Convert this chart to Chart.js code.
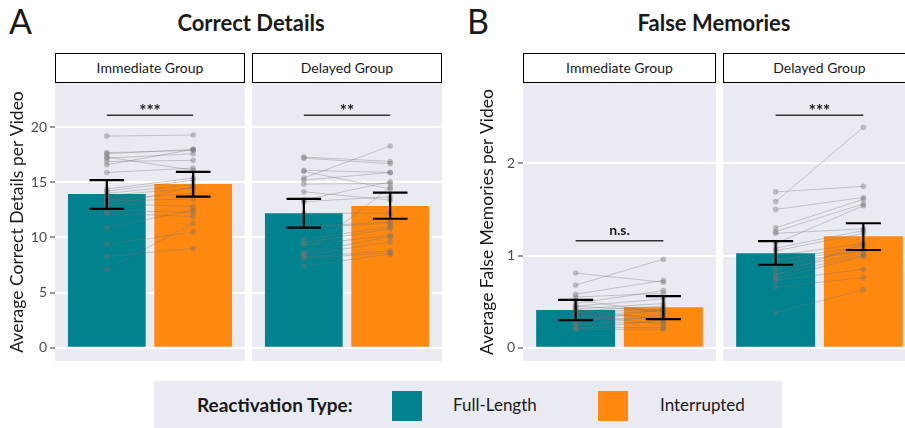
<!DOCTYPE html>
<html>
<head>
<meta charset="utf-8">
<script src="https://cdn.jsdelivr.net/npm/chart.js@4"></script>
<style>
  body { margin: 0; width: 905px; height: 428px; overflow: hidden; background: #fff; font-family: Lato, sans-serif; position: relative; color: #1a1a1a; }
  canvas { position: absolute; }
  .lbl { position: absolute; font-size: 34px; }
  .ttl { position: absolute; font-size: 22px; font-weight: bold; transform: translate(-50%, -50%); white-space: nowrap; }
  .strip { position: absolute; box-sizing: border-box; border: 1.5px solid #000; background: #fff; height: 30px; top: 53px; font-size: 14px; text-align: center; line-height: 27px; }
  #legend { position: absolute; left: 154px; top: 381px; width: 628px; height: 47px; background: #eaeaf2; }
  #legend div { position: absolute; }
  .sw { width: 30px; height: 30px; top: 10px; }
  .lt { font-size: 17px; top: 13px; }
</style>
</head>
<body>
<div class="lbl" style="left:9px; top:0px;">A</div>
<div class="lbl" style="left:467px; top:0px;">B</div>
<div class="ttl" style="left:251px; top:22px;">Correct Details</div>
<div class="ttl" style="left:714px; top:22px;">False Memories</div>

<div class="strip" style="left:55px; width:190px;">Immediate Group</div>
<div class="strip" style="left:252px; width:190px;">Delayed Group</div>
<div class="strip" style="left:523px; width:193px;">Immediate Group</div>
<div class="strip" style="left:723px; width:193px;">Delayed Group</div>

<canvas id="cA1" width="245" height="278" style="left:0px; top:83px;"></canvas>
<canvas id="cA2" width="190" height="278" style="left:252px; top:83px;"></canvas>
<canvas id="cB1" width="246" height="278" style="left:470px; top:83px;"></canvas>
<canvas id="cB2" width="193" height="278" style="left:723px; top:83px;"></canvas>

<div id="legend">
  <div style="left:43px; top:12px; font-size:19px; font-weight:bold;">Reactivation Type:</div>
  <div class="sw" style="left:238px; background:#00838e;"></div>
  <div class="lt" style="left:299px;">Full-Length</div>
  <div class="sw" style="left:444px; background:#ff8811;"></div>
  <div class="lt" style="left:506px;">Interrupted</div>
</div>

<script>
// categories
const groups = ['Immediate Group', 'Delayed Group'];
const reactivation = ['Full-Length', 'Interrupted'];
const barColors = ['#00838e', '#ff8811'];

// correct details - bar means and error bar limits [Full-Length, Interrupted]
const cdImmMean = [13.95, 14.85];
const cdImmLow = [12.6, 13.7];
const cdImmHigh = [15.2, 15.95];
const cdDelMean = [12.2, 12.85];
const cdDelLow = [10.9, 11.7];
const cdDelHigh = [13.5, 14.07];

// correct details - participants
const cdImmFull = [19.2, 17.7, 17.6, 17.3, 17.2, 16.9, 16.6, 15.9, 14.4, 14.2, 14.0, 13.8, 13.5, 13.3, 13.1, 12.8, 12.5, 12.2, 10.9, 9.4, 8.3, 7.1];
const cdImmInt = [19.3, 17.9, 18.0, 16.1, 17.6, 17.0, 18.0, 16.3, 15.4, 15.2, 14.8, 14.5, 14.0, 13.5, 12.8, 14.6, 12.25, 11.9, 12.5, 10.5, 9.0, 11.3];
const cdDelFull = [17.3, 17.2, 16.1, 16.0, 15.4, 15.2, 14.85, 14.15, 13.4, 13.25, 12.2, 11.0, 10.9, 9.8, 9.5, 9.3, 8.6, 8.4, 8.2, 8.1, 7.4, 8.5];
const cdDelInt = [16.9, 16.7, 15.9, 14.4, 18.3, 15.9, 14.9, 13.4, 15.06, 13.7, 12.2, 11.4, 11.3, 11.0, 10.8, 10.2, 10.07, 9.6, 8.8, 8.6, 8.5, 14.55];

// false memories - bar means and error bar limits
const fmImmMean = [0.41, 0.44];
const fmImmLow = [0.30, 0.31];
const fmImmHigh = [0.52, 0.56];
const fmDelMean = [1.025, 1.21];
const fmDelLow = [0.90, 1.06];
const fmDelHigh = [1.155, 1.35];

// false memories - participants
const fmImmFull = [0.81, 0.68, 0.58, 0.55, 0.52, 0.48, 0.45, 0.42, 0.42, 0.40, 0.38, 0.36, 0.35, 0.33, 0.30, 0.28, 0.26, 0.24, 0.22, 0.20, 0.20, 0.45];
const fmImmInt = [0.71, 0.96, 0.73, 0.59, 0.38, 0.62, 0.53, 0.48, 0.30, 0.45, 0.42, 0.25, 0.40, 0.36, 0.33, 0.42, 0.28, 0.35, 0.22, 0.20, 0.30, 0.40];
const fmDelFull = [1.585, 1.69, 1.50, 1.30, 1.26, 1.24, 1.13, 1.08, 1.05, 1.00, 0.95, 0.90, 0.85, 0.80, 0.78, 0.75, 0.73, 0.66, 0.38, 0.95];
const fmDelInt = [2.39, 1.75, 1.63, 1.61, 1.56, 1.29, 1.54, 1.27, 1.24, 1.13, 1.10, 1.05, 1.02, 1.00, 1.13, 0.99, 0.85, 0.76, 0.63, 1.05];

// significance labels and their heights
const cdSig = ['***', '**'];
const cdSigY = [21.1, 21.1];
const fmSig = ['n.s.', '***'];
const fmSigY = [1.16, 2.52];

// axis ticks and ranges
const cdTicks = [0, 5, 10, 15, 20];
const fmTicks = [0, 1, 2];
const cdRange = [-1.21, 24.02];
const fmRange = [-0.144, 2.871];

const panelBg = {
    id: 'panelBg',
    beforeDraw(chart) {
        const a = chart.chartArea, c = chart.ctx;
        c.save();
        c.fillStyle = '#eaeaf2';
        c.fillRect(a.left, a.top, a.right - a.left, a.bottom - a.top);
        c.restore();
    }
};

const sigText = {
    id: 'sigText',
    afterDatasetsDraw(chart, args, opts) {
        const c = chart.ctx;
        const x = chart.scales.x.getPixelForValue(1.5);
        const y = chart.scales.y.getPixelForValue(opts.y);
        c.save();
        c.fillStyle = '#1a1a1a';
        c.textAlign = 'center';
        c.textBaseline = 'alphabetic';
        if (opts.text.includes('*')) {
            c.font = 'bold 17px Lato';
            c.fillText(opts.text, x, y + 2);
        } else {
            c.font = 'bold 14px Lato';
            c.fillText(opts.text, x, y - 6);
        }
        c.restore();
    }
};

function makePanel(id, full, inter, mean, low, high, sig, sigY, ticks, range, yTitle, axisW) {
    const datasets = [];
    datasets.push({
        type: 'bar',
        data: mean.map((v, i) => ({ x: i + 1, y: v })),
        backgroundColor: barColors,
        barPercentage: 0.9,
        categoryPercentage: 1,
        order: 3
    });
    full.forEach((v, i) => {
        datasets.push({
            type: 'line',
            data: [{ x: 1, y: v }, { x: 2, y: inter[i] }],
            borderColor: 'rgba(115,115,115,0.35)',
            borderWidth: 1,
            pointRadius: 2.8,
            pointBackgroundColor: 'rgba(115,115,115,0.4)',
            pointBorderWidth: 0,
            order: 2
        });
    });
    mean.forEach((m, i) => {
        const x = i + 1;
        datasets.push({
            type: 'line',
            data: [
                { x: x - 0.2, y: high[i] }, { x: x + 0.2, y: high[i] }, { x: x, y: null },
                { x: x, y: high[i] }, { x: x, y: low[i] }, { x: x, y: null },
                { x: x - 0.2, y: low[i] }, { x: x + 0.2, y: low[i] }
            ],
            borderColor: '#000',
            borderWidth: 2.2,
            pointRadius: 0,
            spanGaps: false,
            order: 1
        });
    });
    datasets.push({
        type: 'line',
        data: [{ x: 1, y: sigY }, { x: 2, y: sigY }],
        borderColor: '#333',
        borderWidth: 1.5,
        pointRadius: 0,
        order: 1
    });

    const showAxis = axisW > 0;
    return new Chart(document.getElementById(id), {
        type: 'bar',
        data: { datasets: datasets },
        plugins: [panelBg, sigText],
        options: {
            responsive: false,
            animation: false,
            layout: { padding: 0, autoPadding: false },
            plugins: {
                legend: { display: false },
                tooltip: { enabled: false },
                sigText: { text: sig, y: sigY }
            },
            scales: {
                x: {
                    type: 'linear',
                    min: 0.4,
                    max: 2.6,
                    offset: false,
                    display: false,
                    afterBuildTicks: s => { s.ticks = [{ value: 1 }, { value: 2 }]; }
                },
                y: {
                    min: range[0],
                    max: range[1],
                    border: { display: false },
                    afterBuildTicks: s => { s.ticks = ticks.map(v => ({ value: v })); },
                    afterFit: s => { s.width = axisW; s.paddingTop = 0; s.paddingBottom = 0; },
                    grid: {
                        color: '#ffffff',
                        lineWidth: 2,
                        drawTicks: showAxis,
                        tickColor: '#333',
                        tickWidth: 1,
                        tickLength: 5
                    },
                    ticks: {
                        display: showAxis,
                        padding: 3,
                        color: '#4d4d4d',
                        font: { family: 'Lato', size: 14 }
                    },
                    title: {
                        display: showAxis,
                        text: yTitle,
                        color: '#1a1a1a',
                        font: { family: 'Lato', size: 17.5 },
                        padding: { top: 7, bottom: 0 }
                    }
                }
            }
        }
    });
}

makePanel('cA1', cdImmFull, cdImmInt, cdImmMean, cdImmLow, cdImmHigh, cdSig[0], cdSigY[0], cdTicks, cdRange, 'Average Correct Details per Video', 55);
makePanel('cA2', cdDelFull, cdDelInt, cdDelMean, cdDelLow, cdDelHigh, cdSig[1], cdSigY[1], cdTicks, cdRange, '', 0);
makePanel('cB1', fmImmFull, fmImmInt, fmImmMean, fmImmLow, fmImmHigh, fmSig[0], fmSigY[0], fmTicks, fmRange, 'Average False Memories per Video', 53);
makePanel('cB2', fmDelFull, fmDelInt, fmDelMean, fmDelLow, fmDelHigh, fmSig[1], fmSigY[1], fmTicks, fmRange, '', 0);
</script>
</body>
</html>
